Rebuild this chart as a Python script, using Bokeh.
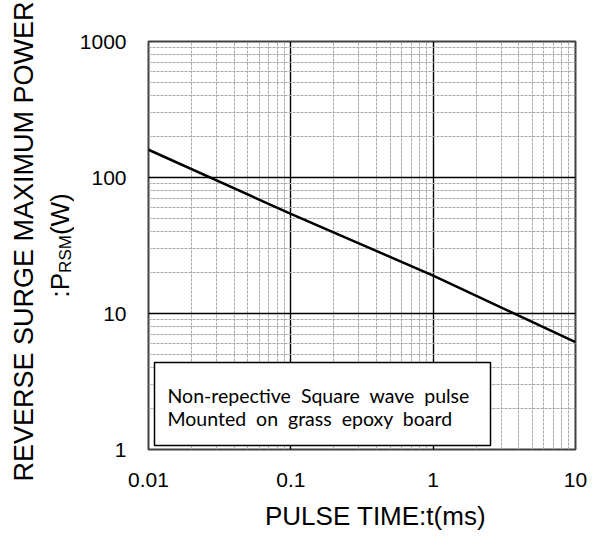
import numpy as np
from bokeh.plotting import figure
from bokeh.layouts import row, column
from bokeh.models import FixedTicker, Label, BoxAnnotation, Range1d
from bokeh.embed import file_html
from bokeh.resources import INLINE

# ---- data ----
t_ms = [0.01, 0.1, 1, 10]
p_w = [160, 54, 19, 6.15]

x_ticks = [0.01, 0.1, 1, 10]
x_tick_labels = ["0.01", "0.1", "1", "10"]
y_ticks = [1, 10, 100, 1000]
y_tick_labels = ["1", "10", "100", "1000"]

x_title = "PULSE TIME:t(ms)"
y_title_1 = "REVERSE SURGE MAXIMUM POWER"
y_title_2 = [":P", "RSM", "(W)"]
note_lines = ["Non-repective  Square  wave  pulse", "Mounted  on  grass  epoxy  board"]

FONT = "Liberation Sans"


def minors(decades):
    return [d * m for d in decades[:-1] for m in range(2, 10)]


def wide_spaces(s):
    # keep the double spacing of the original note visible in SVG
    return s.replace("  ", "\u00a0 ")


# ---- main chart ----
LEFT_W = 74
MAIN_W = 516
MAIN_H = 499
BOTTOM_H = 40

p = figure(width=MAIN_W, height=MAIN_H, x_axis_type="log", y_axis_type="log",
           x_range=Range1d(x_ticks[0], x_ticks[-1]), y_range=Range1d(y_ticks[0], y_ticks[-1]),
           output_backend="svg", toolbar_location=None, frame_align=False,
           min_border_left=74, min_border_right=15, min_border_top=41, min_border_bottom=50)

p.background_fill_color = "white"
p.border_fill_color = "white"
p.outline_line_color = "#404040"
p.outline_line_width = 2

p.xaxis.ticker = FixedTicker(ticks=x_ticks, minor_ticks=minors(x_ticks))
p.yaxis.ticker = FixedTicker(ticks=y_ticks, minor_ticks=minors(y_ticks))
p.xaxis.major_label_overrides = {t: l for t, l in zip(x_ticks, x_tick_labels)}
p.yaxis.major_label_overrides = {t: l for t, l in zip(y_ticks, y_tick_labels)}

for ax in (p.xaxis, p.yaxis):
    ax.axis_line_color = None
    ax.major_tick_line_color = None
    ax.minor_tick_line_color = None
    ax.major_tick_out = 0
    ax.major_tick_in = 0
    ax.minor_tick_out = 0
    ax.minor_tick_in = 0
    ax.major_label_text_font = FONT
    ax.major_label_text_font_size = "21px"
    ax.major_label_text_color = "black"
p.yaxis.major_label_standoff = 22
p.xaxis.major_label_standoff = 23

for g in (p.xgrid, p.ygrid):
    g.grid_line_color = "black"
    g.grid_line_width = 1.4
    g.grid_line_alpha = 1
    g.minor_grid_line_color = "#a8a8a8"
    g.minor_grid_line_width = 1
    g.minor_grid_line_dash = "3 1"

p.line(t_ms, p_w, line_color="black", line_width=2.5)

box = BoxAnnotation(left=6, right=342, bottom=4, top=87,
                    left_units="screen", right_units="screen",
                    bottom_units="screen", top_units="screen",
                    fill_color="white", fill_alpha=1,
                    line_color="black", line_alpha=1, line_width=1.5, level="overlay")
p.add_layout(box)

for i, txt in enumerate(note_lines):
    p.add_layout(Label(x=19, y=54 - 23 * i, x_units="screen", y_units="screen",
                       text=wide_spaces(txt), text_font="Lato", text_font_size="19.5px", level="overlay",
                       text_baseline="middle", text_align="left", text_color="black"))

# ---- left strip with the y title ----
pl = figure(width=LEFT_W, height=MAIN_H, x_range=Range1d(0, LEFT_W), y_range=Range1d(0, MAIN_H),
            output_backend="svg", toolbar_location=None, min_border=0, frame_align=False,
            x_axis_location=None, y_axis_location=None)
pl.grid.visible = False
pl.outline_line_color = None
pl.background_fill_color = "white"
pl.border_fill_color = "white"

pl.add_layout(Label(x=23, y=MAIN_H - 241, angle=np.pi / 2,
                    text=y_title_1, text_font=FONT, text_font_size="27px",
                    text_align="center", text_baseline="middle", text_color="black"))
pl.add_layout(Label(x=59, y=MAIN_H - 297, angle=np.pi / 2,
                    text=y_title_2[0], text_font=FONT, text_font_size="26px",
                    text_align="left", text_baseline="middle", text_color="black"))
pl.add_layout(Label(x=65, y=MAIN_H - 272.4, angle=np.pi / 2,
                    text=y_title_2[1], text_font=FONT, text_font_size="17px",
                    text_align="left", text_baseline="middle", text_color="black"))
pl.add_layout(Label(x=59, y=MAIN_H - 234.6, angle=np.pi / 2,
                    text=y_title_2[2], text_font=FONT, text_font_size="26px",
                    text_align="left", text_baseline="middle", text_color="black"))

# ---- bottom strip with the x title ----
TOTAL_W = LEFT_W + MAIN_W
pb = figure(width=TOTAL_W, height=BOTTOM_H, x_range=Range1d(0, TOTAL_W), y_range=Range1d(0, BOTTOM_H),
            output_backend="svg", toolbar_location=None, min_border=0, frame_align=False,
            x_axis_location=None, y_axis_location=None)
pb.grid.visible = False
pb.outline_line_color = None
pb.background_fill_color = "white"
pb.border_fill_color = "white"
pb.add_layout(Label(x=375, y=24, text=x_title, text_font=FONT, text_font_size="26px",
                    text_align="center", text_baseline="alphabetic", text_color="black"))

layout = column(row(pl, p, spacing=0), pb, spacing=0)

open("out.html", "w").write(file_html(layout, INLINE))
